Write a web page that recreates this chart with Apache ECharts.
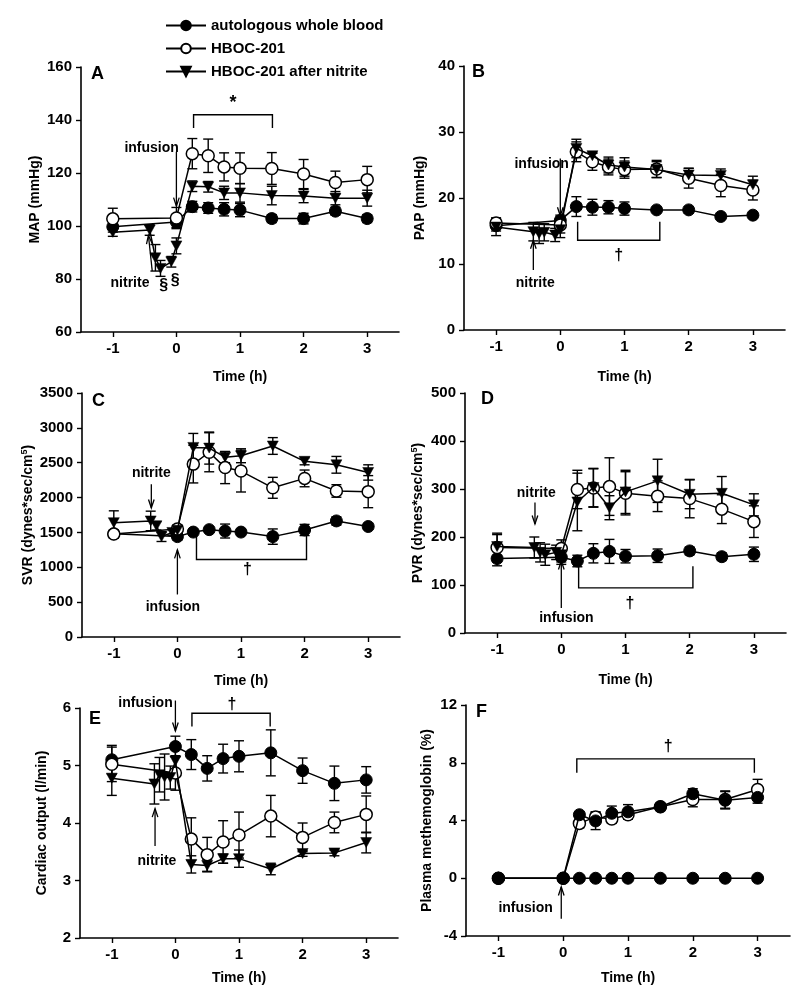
<!DOCTYPE html>
<html><head><meta charset="utf-8">
<script src="https://cdn.jsdelivr.net/npm/echarts@6/dist/echarts.min.js"></script>
<style>html,body{margin:0;padding:0;background:#fff}#c{width:800px;height:999px}</style>
</head><body><div id="c"></div>
<script>
const FONT = "'Liberation Sans', Arial, sans-serif";
const seriesNames = ['autologous whole blood', 'HBOC-201', 'HBOC-201 after nitrite'];
const tickHours = [-1, 0, 1, 2, 3];

// time points (h)
const tMain = [-1, 0, 0.25, 0.5, 0.75, 1, 1.5, 2, 2.5, 3];
const tNit = [-1, -0.42, -0.33, -0.25, -0.08, 0, 0.25, 0.5, 0.75, 1, 1.5, 2, 2.5, 3];
const tNitE = [-1, -0.33, -0.25, -0.17, -0.08, 0, 0.25, 0.5, 0.75, 1, 1.5, 2, 2.5, 3];

// A: MAP
const mapBlood = [99.7, 101.5, 107.3, 106.8, 106.3, 106, 102.8, 102.8, 105.6, 102.8];
const mapBloodErr = [2, 2, 2, 2, 2.5, 2.5, 1.5, 2, 1.5, 1.5];
const mapHboc = [102.7, 103, 127.3, 126.5, 122.3, 121.8, 121.7, 119.6, 116.4, 117.5];
const mapHbocErr = [4, 4, 5.7, 6.3, 5.3, 5.8, 6, 5.5, 4.3, 5];
const mapNit = [97.6, 98.5, 88, 84, 86.5, 92.5, 115, 114.8, 112.5, 112.5, 111.5, 111.3, 110.5, 110.5];
const mapNitErr = [1.5, 2, 5, 3, 2, 3, 2, 2, 2.5, 3.5, 3.5, 2.5, 2.5, 3];

// B: PAP
const papBlood = [15.8, 16.6, 18.7, 18.6, 18.6, 18.4, 18.2, 18.2, 17.2, 17.4];
const papBloodErr = [0.8, 0.8, 1.5, 1.2, 1, 1, 0.3, 0.5, 0.3, 0.3];
const papHboc = [16.2, 15.9, 27, 25.5, 24.7, 24.3, 24.4, 23, 21.9, 21.2];
const papHbocErr = [0.8, 1.2, 1.5, 1.3, 1.2, 1.3, 1.3, 1.5, 1.7, 1.5];
const papNit = [15.6, 14.9, 14.6, 14.8, 14.4, 15.2, 27.5, 26.4, 25, 24.7, 24.3, 23.5, 23.4, 22];
const papNitErr = [1.3, 1.4, 1.5, 1.3, 1, 1.2, 1.4, 0.4, 1.2, 1.4, 1.2, 1, 1, 1.3];

// C: SVR
const svrBlood = [1480, 1440, 1505, 1540, 1520, 1505, 1440, 1535, 1665, 1585];
const svrBloodErr = [40, 50, 40, 40, 100, 40, 110, 80, 60, 40];
const svrHboc = [1476, 1548, 2480, 2650, 2430, 2380, 2140, 2275, 2095, 2085];
const svrHbocErr = [60, 60, 270, 280, 230, 300, 150, 120, 90, 230];
const svrNit = [1640, 1665, 1595, 1440, 1500, 1530, 2720, 2710, 2580, 2600, 2740, 2520, 2470, 2360];
const svrNitErr = [170, 140, 60, 70, 40, 40, 200, 230, 80, 100, 120, 50, 120, 110];

// D: PVR
const pvrBlood = [155, 158, 150, 166, 170, 160, 161, 171, 159, 164];
const pvrBloodErr = [15, 15, 12, 20, 25, 14, 14, 8, 8, 15];
const pvrHboc = [178, 176, 299, 302, 305, 291, 285, 280, 258, 232];
const pvrHbocErr = [30, 18, 40, 40, 60, 45, 32, 40, 30, 33];
const pvrNit = [180, 178, 168, 163, 168, 163, 273, 303, 261, 294, 317, 289, 291, 267];
const pvrNitErr = [25, 22, 20, 22, 15, 15, 60, 40, 25, 45, 45, 30, 35, 23];

// E: cardiac output
const coBlood = [5.10, 5.33, 5.19, 4.95, 5.12, 5.16, 5.22, 4.91, 4.69, 4.75];
const coBloodErr = [0.25, 0.18, 0.26, 0.22, 0.25, 0.27, 0.4, 0.22, 0.3, 0.23];
const coHboc = [5.02, 4.87, 3.72, 3.45, 3.67, 3.79, 4.12, 3.75, 4.01, 4.15];
const coHbocErr = [0.3, 0.3, 0.37, 0.3, 0.37, 0.4, 0.36, 0.25, 0.18, 0.32];
const coNit = [4.78, 4.68, 4.84, 4.8, 4.79, 5.08, 3.28, 3.26, 3.38, 3.38, 3.2, 3.47, 3.48, 3.66];
const coNitErr = [0.3, 0.35, 0.3, 0.4, 0.2, 0.2, 0.15, 0.1, 0.08, 0.15, 0.1, 0.05, 0.05, 0.18];

// F: plasma methemoglobin
const metBlood = [0, 0, 0, 0, 0, 0, 0, 0, 0, 0];
const metBloodErr = [0, 0, 0, 0, 0, 0, 0, 0, 0, 0];
const metHboc = [0, 0, 3.8, 4.25, 4.1, 4.4, 4.95, 5.45, 5.45, 6.15];
const metHbocErr = [0, 0, 0.3, 0.35, 0.3, 0.3, 0.2, 0.5, 0.6, 0.7];
const metNit = [0, 0, 4.4, 3.97, 4.5, 4.6, 4.95, 5.85, 5.4, 5.6];
const metNitErr = [0, 0, 0.2, 0.6, 0.5, 0.5, 0.2, 0.35, 0.6, 0.4];

// panel definitions (axes + series sources)
const panels = [
  { letter: 'A', yName: 'MAP (mmHg)', yMin: 60, yMax: 160, yInt: 20,
    sets: [[tMain, mapBlood, mapBloodErr], [tMain, mapHboc, mapHbocErr], [tNit, mapNit, mapNitErr]] },
  { letter: 'B', yName: 'PAP (mmHg)', yMin: 0, yMax: 40, yInt: 10,
    sets: [[tMain, papBlood, papBloodErr], [tMain, papHboc, papHbocErr], [tNit, papNit, papNitErr]] },
  { letter: 'C', yName: 'SVR (dynes*sec/cm{sup|5})', yMin: 0, yMax: 3500, yInt: 500,
    sets: [[tMain, svrBlood, svrBloodErr], [tMain, svrHboc, svrHbocErr], [tNit, svrNit, svrNitErr]] },
  { letter: 'D', yName: 'PVR (dynes*sec/cm{sup|5})', yMin: 0, yMax: 500, yInt: 100,
    sets: [[tMain, pvrBlood, pvrBloodErr], [tMain, pvrHboc, pvrHbocErr], [tNit, pvrNit, pvrNitErr]] },
  { letter: 'E', yName: 'Cardiac output (l/min)', yMin: 2, yMax: 6, yInt: 1,
    sets: [[tMain, coBlood, coBloodErr], [tMain, coHboc, coHbocErr], [tNitE, coNit, coNitErr]] },
  { letter: 'F', yName: 'Plasma methemoglobin (%)', yMin: -4, yMax: 12, yInt: 4,
    sets: [[tMain, metBlood, metBloodErr], [tMain, metHboc, metHbocErr], [tMain, metNit, metNitErr]], nitAsCircle: true }
];

// annotations (data coordinates)
const notes = [
  [ {k:'bracket', x1:0.27, x2:1.51, y:142, yTick:137},
    {k:'text', at:[0.89, 146.5], text:'*', size:18},
    {k:'text', at:[-0.39, 129.5], text:'infusion'},
    {k:'arrow', from:[0, 128], to:[0, 107.5]},
    {k:'text', at:[-0.73, 78.3], text:'nitrite'},
    {k:'arrow', from:[-0.38, 83], to:[-0.44, 96.5]},
    {k:'text', at:[-0.2, 77.5], text:'§', size:16},
    {k:'text', at:[-0.02, 79.5], text:'§', size:16} ],
  [ {k:'bracket', x1:0.27, x2:1.55, y:13.6, yTick:16.4},
    {k:'text', at:[0.91, 11.3], text:'†', size:16},
    {k:'text', at:[-0.29, 25.2], text:'infusion'},
    {k:'arrow', from:[0, 26], to:[0, 17.3]},
    {k:'text', at:[-0.39, 7.1], text:'nitrite'},
    {k:'arrow', from:[-0.42, 9.1], to:[-0.42, 13.6]} ],
  [ {k:'bracket', x1:0.3, x2:2.03, y:1112, yTick:1510},
    {k:'text', at:[1.1, 960], text:'†', size:16},
    {k:'text', at:[-0.41, 2350], text:'nitrite'},
    {k:'arrow', from:[-0.41, 2190], to:[-0.41, 1850]},
    {k:'text', at:[-0.07, 430], text:'infusion'},
    {k:'arrow', from:[0, 610], to:[0, 1250]} ],
  [ {k:'bracket', x1:0.27, x2:2.05, y:94, yTick:139},
    {k:'text', at:[1.07, 62], text:'†', size:16},
    {k:'text', at:[-0.39, 292], text:'nitrite'},
    {k:'arrow', from:[-0.41, 272], to:[-0.41, 227]},
    {k:'text', at:[0.08, 31], text:'infusion'},
    {k:'arrow', from:[0, 52], to:[0, 150]} ],
  [ {k:'bracket', x1:0.26, x2:1.49, y:5.91, yTick:5.68},
    {k:'text', at:[0.89, 6.06], text:'†', size:16},
    {k:'text', at:[-0.47, 6.08], text:'infusion'},
    {k:'arrow', from:[0, 6.13], to:[0, 5.6]},
    {k:'text', at:[-0.29, 3.33], text:'nitrite'},
    {k:'arrow', from:[-0.32, 3.6], to:[-0.32, 4.25]} ],
  [ {k:'bracket', x1:0.21, x2:2.95, y:8.27, yTick:7.3},
    {k:'text', at:[1.62, 9.1], text:'†', size:16},
    {k:'text', at:[-0.58, -2.1], text:'infusion'},
    {k:'arrow', from:[-0.03, -2.8], to:[-0.03, -0.6]} ]
];

// layout
const gridBoxes = [
  {left: 81, top: 67, width: 318, height: 265},
  {left: 464, top: 66, width: 321, height: 264},
  {left: 82, top: 393, width: 318, height: 244},
  {left: 465, top: 393, width: 321, height: 240},
  {left: 80, top: 708, width: 318, height: 230},
  {left: 466, top: 705, width: 324, height: 231}
];
const xNameGaps = [38, 40, 37, 40, 33, 35];
const yNameGaps = [39, 37, 46, 39, 31, 32];
const letterPos = [[97, 75], [478, 73], [98, 402], [487, 400], [95, 720], [482, 713]];

const triDown = 'path://M0,0 L12,0 L6,11 Z';
const styles = [
  {symbol: 'circle', symbolSize: 12, itemStyle: {color: '#000', borderColor: '#000', borderWidth: 1}},
  {symbol: 'circle', symbolSize: 12, itemStyle: {color: '#fff', borderColor: '#000', borderWidth: 1.5}},
  {symbol: triDown, symbolSize: [11, 10], itemStyle: {color: '#000', borderColor: '#000', borderWidth: 0.5}}
];

function errRender(params, api) {
  const x = api.value(0), y = api.value(1), e = api.value(2);
  if (!e) return null;
  const top = api.coord([x, y + e]), bot = api.coord([x, y - e]);
  const hw = 5, st = {stroke: '#000', lineWidth: 1.4};
  return {type: 'group', children: [
    {type: 'line', shape: {x1: top[0], y1: top[1], x2: bot[0], y2: bot[1]}, style: st},
    {type: 'line', shape: {x1: top[0] - hw, y1: top[1], x2: top[0] + hw, y2: top[1]}, style: st},
    {type: 'line', shape: {x1: bot[0] - hw, y1: bot[1], x2: bot[0] + hw, y2: bot[1]}, style: st}
  ]};
}

function noteRender(list) {
  return function (params, api) {
    const ch = [];
    list.forEach(n => {
      if (n.k === 'bracket') {
        const a = api.coord([n.x1, n.yTick]), b = api.coord([n.x1, n.y]),
              c = api.coord([n.x2, n.y]), d = api.coord([n.x2, n.yTick]);
        ch.push({type: 'polyline', shape: {points: [a, b, c, d]}, style: {stroke: '#000', lineWidth: 1.4, fill: null}});
      } else if (n.k === 'arrow') {
        const p = api.coord(n.from), q = api.coord(n.to);
        const ang = Math.atan2(q[1] - p[1], q[0] - p[0]);
        const L = 9, w = 0.32;
        const h1 = [q[0] - L * Math.cos(ang - w), q[1] - L * Math.sin(ang - w)];
        const h2 = [q[0] - L * Math.cos(ang + w), q[1] - L * Math.sin(ang + w)];
        ch.push({type: 'line', shape: {x1: p[0], y1: p[1], x2: q[0], y2: q[1]}, style: {stroke: '#000', lineWidth: 1.3}});
        ch.push({type: 'polyline', shape: {points: [h1, q, h2]}, style: {stroke: '#000', lineWidth: 1.3, fill: null}});
      } else if (n.k === 'text') {
        const p = api.coord(n.at);
        ch.push({type: 'text', style: {text: n.text, x: p[0], y: p[1], align: 'center', verticalAlign: 'middle',
          fontSize: n.size || 14, fontWeight: 'bold', fontFamily: FONT, fill: '#000'}});
      }
    });
    return {type: 'group', children: ch};
  };
}

const grid = [], xAxis = [], yAxis = [], series = [], graphic = [];
panels.forEach((p, i) => {
  grid.push(Object.assign({containLabel: false}, gridBoxes[i]));
  xAxis.push({
    type: 'value', gridIndex: i, min: -1.5, max: 3.5,
    name: 'Time (h)', nameLocation: 'middle', nameGap: xNameGaps[i], nameMoveOverlap: false,
    nameTextStyle: {fontSize: 14, fontWeight: 'bold', fontFamily: FONT, color: '#000'},
    axisLine: {show: true, onZero: false, lineStyle: {color: '#000', width: 1.6}},
    axisTick: {show: true, length: 5, customValues: tickHours, lineStyle: {color: '#000', width: 1.4}},
    axisLabel: {customValues: tickHours, margin: 9, fontSize: 15, fontWeight: 'bold', fontFamily: FONT, color: '#000',
      formatter: v => String(v)},
    splitLine: {show: false}
  });
  yAxis.push({
    type: 'value', gridIndex: i, min: p.yMin, max: p.yMax, interval: p.yInt,
    name: p.yName, nameLocation: 'middle', nameGap: yNameGaps[i], nameRotate: 90, nameMoveOverlap: false,
    nameTextStyle: {fontSize: 14, fontWeight: 'bold', fontFamily: FONT, color: '#000',
      rich: {sup: {fontSize: 9, fontWeight: 'bold', fontFamily: FONT, color: '#000', verticalAlign: 'top', padding: [0, 0, 7, 0]}}},
    axisLine: {show: true, onZero: false, lineStyle: {color: '#000', width: 1.6}},
    axisTick: {show: true, length: 5, lineStyle: {color: '#000', width: 1.4}},
    axisLabel: {margin: 9, fontSize: 15, fontWeight: 'bold', fontFamily: FONT, color: '#000',
      formatter: v => String(v)},
    splitLine: {show: false}
  });
  p.sets.forEach((s) => {
    const [t, v, e] = s;
    series.push({
      type: 'custom', xAxisIndex: i, yAxisIndex: i, z: 1, silent: true,
      encode: {x: 0, y: 1},
      data: t.map((tt, k) => [tt, v[k], e[k]]),
      renderItem: errRender
    });
  });
  p.sets.forEach((s, j) => {
    const [t, v] = s;
    let st = styles[j];
    if (j === 2 && p.nitAsCircle) st = styles[0];
    series.push(Object.assign({
      type: 'line', name: seriesNames[j], xAxisIndex: i, yAxisIndex: i, z: 3 + j,
      data: t.map((tt, k) => [tt, v[k]]),
      showSymbol: true, showAllSymbol: true, silent: true, animation: false,
      lineStyle: {color: '#000', width: 1.5},
      emphasis: {disabled: true}
    }, st));
  });
  series.push({
    type: 'custom', xAxisIndex: i, yAxisIndex: i, z: 10, silent: true,
    encode: {x: 0, y: 1},
    data: [[0, p.yMin]],
    renderItem: noteRender(notes[i])
  });
  graphic.push({type: 'text', left: letterPos[i][0] - 6, top: letterPos[i][1] - 10,
    style: {text: p.letter, fontSize: 18, fontWeight: 'bold', fontFamily: FONT, fill: '#000'}});
});

const chart = echarts.init(document.getElementById('c'), null, {renderer: 'canvas'});
chart.setOption({
  animation: false,
  backgroundColor: '#fff',
  textStyle: {fontFamily: FONT, color: '#000'},
  legend: {
    data: seriesNames, orient: 'vertical', left: 160, top: 13, itemGap: 8,
    itemWidth: 40, itemHeight: 12, selectedMode: false,
    textStyle: {fontSize: 15, fontWeight: 'bold', fontFamily: FONT, color: '#000'}
  },
  grid, xAxis, yAxis, series, graphic
});
</script></body></html>
